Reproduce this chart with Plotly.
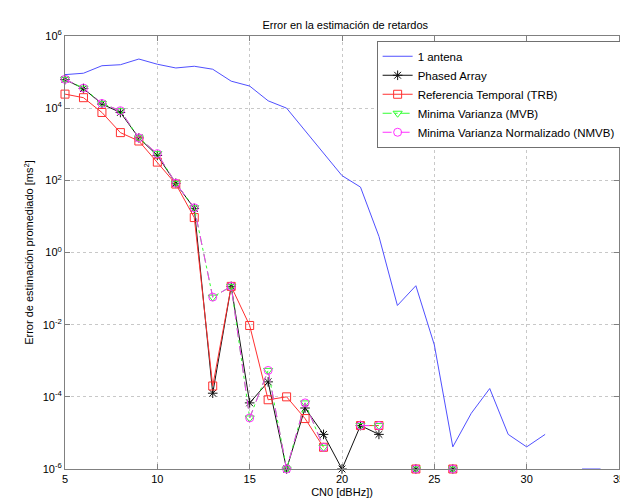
import plotly.graph_objects as go

cn0 = list(range(5, 35))

una_antena = [8.5e4, 9.3e4, 1.5e5, 1.6e5, 2.3e5, 1.65e5, 1.3e5, 1.45e5, 1.2e5, 5.6e4,
              4.1e4, 1.6e4, 1.0e4, 2.4e3, 5.5e2, 1.35e2, 65, 2.8, 3.4e-2, 1.2e-1,
              2.75e-3, 4.1e-6, 3.5e-5, 1.7e-4, 9.1e-6, 4.1e-6, 9.1e-6, None, 1e-6, 1e-6]

phased_array = [6.2e4, 3.5e4, 1.3e4, 7.6e3, 1.5e3, 4.9e2, 83, 16.6, 1.26e-4, 0.115,
                6.8e-5, 2.6e-4, 1e-6, 4.9e-5, 9.1e-6, 1e-6, 1.6e-5, 9.1e-6, None, 1e-6,
                None, 1e-6, None, None, None, None, None, None, None, None]

trb = [2.45e4, 1.95e4, 7.6e3, 2.1e3, 1.23e3, 3.2e2, 79, 9.3, 2.0e-4, 0.115,
       9.5e-3, 8.3e-5, 1.0e-4, 2.5e-5, 4.0e-6, None, 1.6e-5, 1.6e-5, None, 1e-6,
       None, 1e-6, None, None, None, None, None, None, None, None]

mvb = [6.3e4, 3.6e4, 1.35e4, 8.5e3, 1.5e3, 5.5e2, 83, 17.4, 5.8e-2, 0.115,
       2.6e-5, 5.4e-4, 1e-6, 6.8e-5, 4.0e-6, None, 1.6e-5, 1.6e-5, None, 1e-6,
       None, 1e-6, None, None, None, None, None, None, None, None]

nmvb = [6.3e4, 3.6e4, 1.35e4, 8.5e3, 1.5e3, 5.5e2, 83, 17.4, 5.8e-2, 0.115,
        2.6e-5, 5.4e-4, 1e-6, 6.8e-5, 4.0e-6, None, 1.6e-5, 1.6e-5, None, 1e-6,
        None, 1e-6, None, None, None, None, None, None, None, None]

names = ["1 antena", "Phased Array", "Referencia Temporal (TRB)",
         "Minima Varianza (MVB)", "Minima Varianza Normalizado (NMVB)"]

y_tickvals = [1e-6, 1e-4, 1e-2, 1, 1e2, 1e4, 1e6]
y_ticktext = ["10<sup>-6</sup>", "10<sup>-4</sup>", "10<sup>-2</sup>", "10<sup>0</sup>",
              "10<sup>2</sup>", "10<sup>4</sup>", "10<sup>6</sup>"]
x_tickvals = [5, 10, 15, 20, 25, 30, 35]

FONT = "Liberation Sans, Arial, sans-serif"

fig = go.Figure()
fig.add_trace(go.Scatter(x=cn0, y=una_antena, name=names[0], mode="lines",
                         line=dict(color="#5050ff", width=1)))
fig.add_trace(go.Scatter(x=cn0, y=phased_array, name=names[1], mode="lines+markers",
                         line=dict(color="#111111", width=1),
                         marker=dict(symbol="asterisk-open", size=8,
                                     line=dict(color="#000000", width=1)),
                         cliponaxis=False))
fig.add_trace(go.Scatter(x=cn0, y=trb, name=names[2], mode="lines+markers",
                         line=dict(color="#ff3030", width=1),
                         marker=dict(symbol="square-open", size=8, color="#ff3030",
                                     line=dict(width=1)),
                         cliponaxis=False))
fig.add_trace(go.Scatter(x=cn0, y=mvb, name=names[3], mode="lines+markers",
                         line=dict(color="#30ff30", width=1, dash="dashdot"),
                         marker=dict(symbol="triangle-down-open", size=8, color="#30ff30",
                                     line=dict(width=1)),
                         cliponaxis=False))
fig.add_trace(go.Scatter(x=cn0, y=nmvb, name=names[4], mode="lines+markers",
                         line=dict(color="#ff30ff", width=1, dash="dash"),
                         marker=dict(symbol="circle-open", size=8, color="#ff30ff",
                                     line=dict(width=1)),
                         cliponaxis=False))

fig.update_layout(
    width=628, height=500,
    margin=dict(l=57, r=11, t=28, b=33),
    paper_bgcolor="white", plot_bgcolor="white",
    font=dict(family=FONT, size=11, color="black"),
    title=dict(text="Error en la estimación de retardos", x=0.537, xanchor="center",
               y=0.966, yanchor="middle", font=dict(family=FONT, size=11, color="black")),
    showlegend=True,
    legend=dict(x=0.5625, y=0.989, xanchor="left", yanchor="top",
                bgcolor="white", bordercolor="#707070", borderwidth=1,
                font=dict(family=FONT, size=11.5, color="black"), tracegroupgap=0,
                itemwidth=30),
    xaxis=dict(range=[5, 35], tickmode="array", tickvals=x_tickvals,
               tickfont=dict(family=FONT, size=11, color="black"),
               showline=True, linecolor="#808080", linewidth=1, mirror="ticks",
               ticks="inside", ticklen=5, tickcolor="#808080",
               showgrid=True, gridcolor="#c8c8c8", griddash="dot", gridwidth=1,
               zeroline=False,
               title=dict(text="CN0 [dBHz])", standoff=4,
                          font=dict(family=FONT, size=11, color="black"))),
    yaxis=dict(type="log", range=[-6, 6], tickmode="array",
               tickvals=y_tickvals, ticktext=y_ticktext,
               tickfont=dict(family=FONT, size=11, color="black"),
               showline=True, linecolor="#808080", linewidth=1, mirror="ticks",
               ticks="inside", ticklen=5, tickcolor="#808080",
               showgrid=True, gridcolor="#c8c8c8", griddash="dot", gridwidth=1,
               zeroline=False,
               title=dict(text="Error de estimación promediado [ms<sup>2</sup>]", standoff=6,
                          font=dict(family=FONT, size=11, color="black"))),
)

fig.write_html("out.html")
